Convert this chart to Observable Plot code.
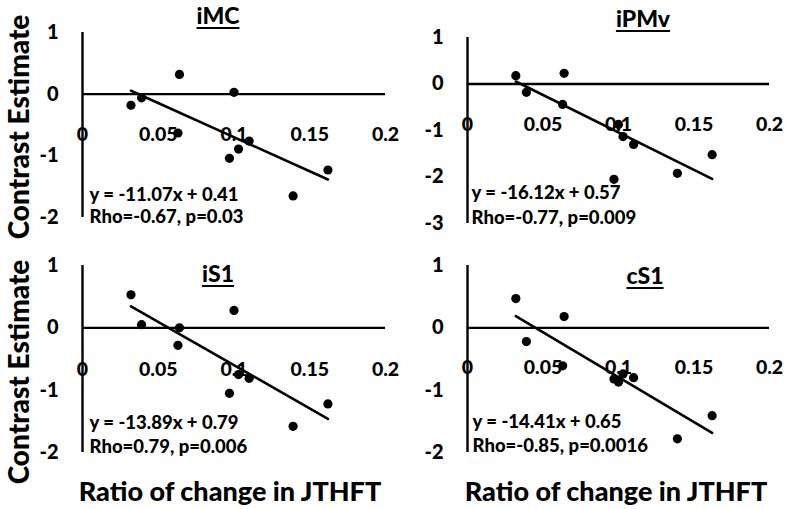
<!DOCTYPE html>
<html>
<head>
<meta charset="utf-8">
<script src="https://cdn.jsdelivr.net/npm/d3@7"></script>
<script src="https://cdn.jsdelivr.net/npm/@observablehq/plot@0.6"></script>
<style>
  html, body { margin: 0; padding: 0; background: #fff; }
  #chart { position: relative; width: 787px; height: 509px; font-family: Lato, "Open Sans", sans-serif; font-weight: 900; color: #000; overflow: hidden; }
  .panel { position: absolute; }
  .title { position: absolute; font-size: 23px; text-decoration: underline; text-decoration-thickness: 2px; text-underline-offset: 3px; transform: translate(-50%, -50%); white-space: nowrap; }
  .ylab { position: absolute; font-size: 28px; transform: translate(-50%, -50%) rotate(-90deg); white-space: nowrap; }
  .xlab { position: absolute; font-size: 27px; transform: translate(-50%, -50%); white-space: nowrap; }
</style>
</head>
<body>
<div id="chart"></div>
<script>
// ---- data ----
const ratio = [0.032, 0.039, 0.063, 0.064, 0.097, 0.100, 0.103, 0.110, 0.139, 0.162];
const iMC  = [-0.18, -0.06, -0.63, 0.32, -1.04, 0.03, -0.89, -0.76, -1.65, -1.23];
const iPMv = [0.18, -0.18, -0.44, 0.23, -2.05, -0.87, -1.13, -1.30, -1.92, -1.52];
const iS1  = [0.53, 0.05, -0.28, 0.00, -1.05, 0.28, -0.75, -0.81, -1.58, -1.22];
const cS1  = [0.47, -0.22, -0.61, 0.18, -0.82, -0.87, -0.74, -0.80, -1.78, -1.41];

const regions = ["iMC", "iPMv", "iS1", "cS1"];
const slopes = [-11.07, -16.12, -13.89, -14.41];
const intercepts = [0.41, 0.57, 0.79, 0.65];
const eqLabels = ["y = -11.07x + 0.41", "y = -16.12x + 0.57", "y = -13.89x + 0.79", "y = -14.41x + 0.65"];
const statLabels = ["Rho=-0.67, p=0.03", "Rho=-0.77, p=0.009", "Rho=0.79, p=0.006", "Rho=-0.85, p=0.0016"];

const xTicks = [0, 0.05, 0.1, 0.15, 0.2];
const yTicksA = [1, 0, -1, -2];
const yTicksB = [1, 0, -1, -2, -3];
const yDomains = [[-2, 1], [-3, 1], [-2, 1], [-2, 1]];
const yTickSets = [yTicksA, yTicksB, yTicksA, yTicksA];
const seriesValues = [iMC, iPMv, iS1, cS1];

// ---- layout (styling only) ----
const layout = [
  {left: 0,   top: 0,   width: 393, height: 250, ml: 82, mr: 8,  mt: 32, mb: 33, xlabDy: 95, eqDx: 7, eqDy: -17, stDy: 5,  title: [218, 15]},
  {left: 393, top: 0,   width: 394, height: 250, ml: 74, mr: 18, mt: 37, mb: 27, xlabDy: 80, eqDx: 4, eqDy: -25, stDy: 0,  title: [643, 18]},
  {left: 0,   top: 250, width: 393, height: 259, ml: 82, mr: 8,  mt: 15, mb: 57, xlabDy: 97, eqDx: 7, eqDy: -24, stDy: 0,  title: [218, 273]},
  {left: 393, top: 250, width: 394, height: 259, ml: 74, mr: 18, mt: 15, mb: 57, xlabDy: 95, eqDx: 5, eqDy: -25, stDy: -1, title: [645, 275]}
];

const chart = document.getElementById("chart");
const font = "Lato, 'Open Sans', sans-serif";

regions.forEach((name, i) => {
  const L = layout[i];
  const pts = ratio.map((x, j) => ({x, y: seriesValues[i][j]}));
  const xExt = d3.extent(ratio);
  const fit = xExt.map(x => ({x, y: slopes[i] * x + intercepts[i]}));
  const svg = Plot.plot({
    width: L.width,
    height: L.height,
    marginLeft: L.ml, marginRight: L.mr, marginTop: L.mt, marginBottom: L.mb,
    style: {fontFamily: font, fontWeight: 900, overflow: "visible", background: "transparent"},
    x: {domain: [0, 0.2], axis: null},
    y: {domain: yDomains[i], axis: null},
    marks: [
      Plot.axisY({ticks: yTickSets[i], tickSize: 0, tickPadding: 24, fontSize: 20, fontWeight: 900, label: null, tickFormat: d => String(d)}),
      Plot.text(xTicks, {x: d => d, text: d => String(d), frameAnchor: "top", dy: L.xlabDy, fontSize: 19.5, fontWeight: 900, fill: "#000"}),
      Plot.ruleX([0], {stroke: "#000", strokeWidth: 2.4}),
      Plot.ruleY([0], {stroke: "#000", strokeWidth: 2.4}),
      Plot.line(fit, {x: "x", y: "y", stroke: "#000", strokeWidth: 2.6}),
      Plot.dot(pts, {x: "x", y: "y", r: 4.6, fill: "#000", stroke: "none"}),
      Plot.text([eqLabels[i]], {text: d => d, frameAnchor: "bottom-left", textAnchor: "start", dx: L.eqDx, dy: L.eqDy, fontSize: 18.5, fontWeight: 900, fill: "#000"}),
      Plot.text([statLabels[i]], {text: d => d, frameAnchor: "bottom-left", textAnchor: "start", dx: L.eqDx, dy: L.stDy, fontSize: 18.5, fontWeight: 900, fill: "#000"})
    ]
  });
  svg.classList.add("panel");
  svg.style.left = L.left + "px";
  svg.style.top = L.top + "px";
  chart.appendChild(svg);

  const t = document.createElement("div");
  t.className = "title";
  t.textContent = name;
  t.style.left = L.title[0] + "px";
  t.style.top = L.title[1] + "px";
  chart.appendChild(t);
});

const yLabelText = "Contrast Estimate";
const xLabelText = "Ratio of change in JTHFT";
[[18, 127], [18, 372]].forEach(([x, y]) => {
  const d = document.createElement("div");
  d.className = "ylab"; d.textContent = yLabelText;
  d.style.left = x + "px"; d.style.top = y + "px";
  chart.appendChild(d);
});
[[230, 490], [616, 490]].forEach(([x, y]) => {
  const d = document.createElement("div");
  d.className = "xlab"; d.textContent = xLabelText;
  d.style.left = x + "px"; d.style.top = y + "px";
  chart.appendChild(d);
});
</script>
</body>
</html>
